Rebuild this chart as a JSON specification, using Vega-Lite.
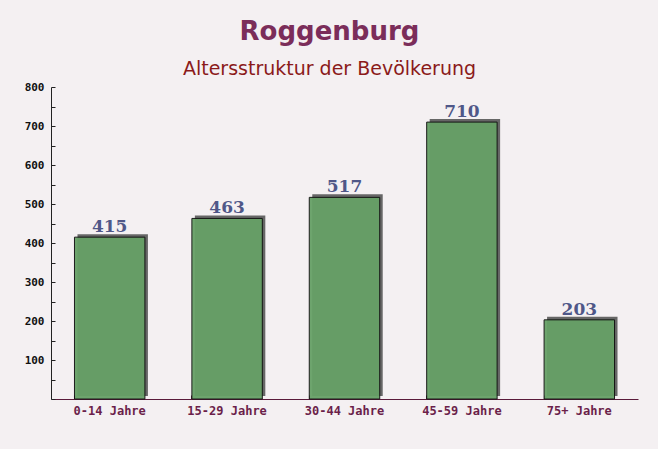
{
  "$schema": "https://vega.github.io/schema/vega-lite/v6.json",
  "width": 587,
  "height": 312,
  "autosize": {"type": "none"},
  "padding": {"left": 51, "top": 87, "right": 20, "bottom": 50},
  "background": "#f4f0f2",
  "title": {
    "text": "Roggenburg",
    "subtitle": "Altersstruktur der Bevölkerung",
    "anchor": "middle",
    "dx": -15,
    "offset": 2,
    "font": "DejaVu Sans",
    "fontSize": 26,
    "fontWeight": "bold",
    "color": "#7b2d5a",
    "subtitleFont": "DejaVu Sans",
    "subtitleFontSize": 19,
    "subtitleColor": "#8b1a1a",
    "subtitlePadding": 15
  },
  "data": {
    "values": [
      {"group": "0-14 Jahre", "value": 415},
      {"group": "15-29 Jahre", "value": 463},
      {"group": "30-44 Jahre", "value": 517},
      {"group": "45-59 Jahre", "value": 710},
      {"group": "75+ Jahre", "value": 203}
    ]
  },
  "config": {
    "view": {"stroke": null},
    "axis": {"grid": false}
  },
  "encoding": {
    "x": {
      "field": "group",
      "type": "nominal",
      "sort": null,
      "scale": {"paddingInner": 0.4, "paddingOuter": 0.2},
      "axis": {
        "title": null,
        "labelAngle": 0,
        "labelFont": "DejaVu Sans Mono",
        "labelFontSize": 12,
        "labelFontWeight": "bold",
        "labelColor": "#6b1f4a",
        "labelPadding": 10,
        "domainColor": "#5a1a3a",
        "tickColor": "#5a1a3a",
        "tickSize": -4,
        "bandPosition": 0
      }
    },
    "y": {
      "field": "value",
      "type": "quantitative",
      "scale": {"domain": [0, 800]},
      "axis": {
        "title": null,
        "values": [0, 50, 100, 150, 200, 250, 300, 350, 400, 450, 500, 550, 600, 650, 700, 750, 800],
        "labelExpr": "datum.value % 100 == 0 && datum.value > 0 ? datum.label : ''",
        "labelFont": "DejaVu Sans Mono",
        "labelFontSize": 11,
        "labelFontWeight": "bold",
        "labelColor": "#111111",
        "labelPadding": 11,
        "domainColor": "#222222",
        "tickColor": "#222222",
        "tickSize": -4
      }
    }
  },
  "layer": [
    {
      "mark": {"type": "bar", "color": "#666666", "xOffset": 3, "x2Offset": 3, "yOffset": -3, "y2Offset": -1}
    },
    {
      "mark": {"type": "bar", "color": "#66a066", "opacity": 0.95, "stroke": "#111111", "strokeWidth": 1}
    },
    {
      "mark": {"type": "text", "baseline": "alphabetic", "dy": -5, "font": "DejaVu Serif", "fontSize": 17, "fontWeight": "bold", "color": "#4f5788"},
      "encoding": {"text": {"field": "value", "type": "quantitative"}}
    }
  ]
}
